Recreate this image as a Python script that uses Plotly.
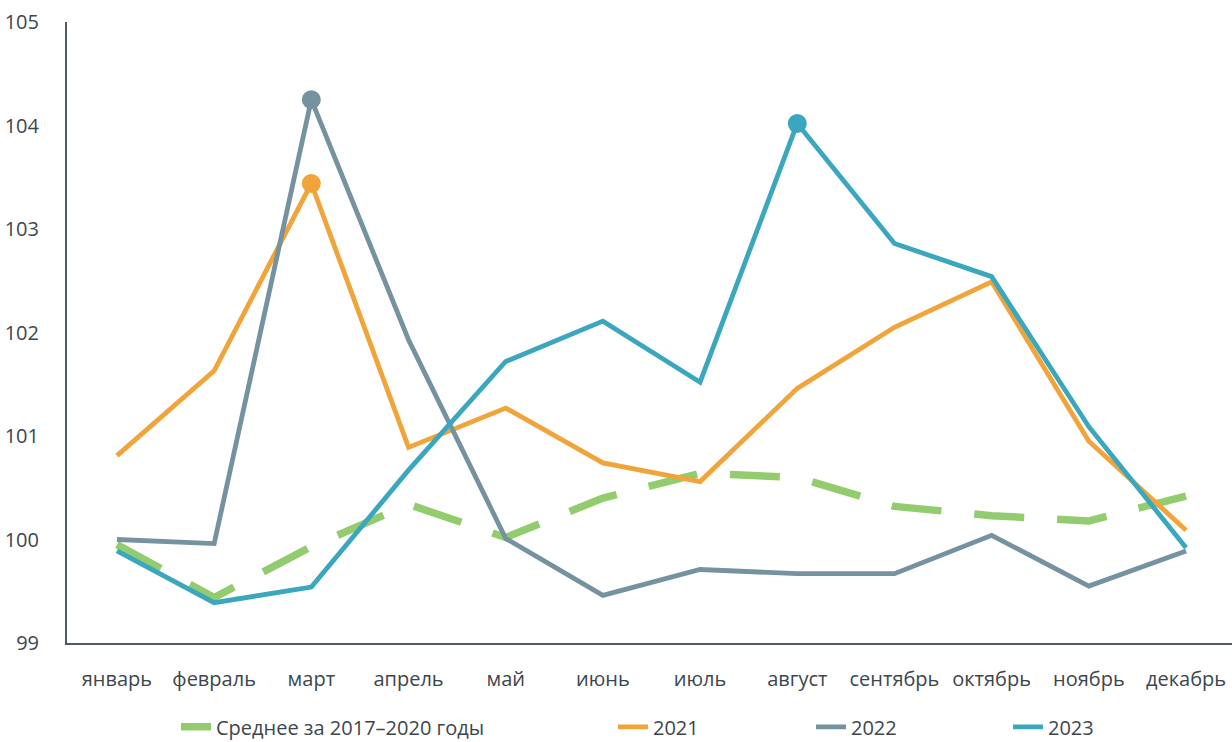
import plotly.graph_objects as go

months = ["январь", "февраль", "март", "апрель", "май", "июнь", "июль",
          "август", "сентябрь", "октябрь", "ноябрь", "декабрь"]
avg_2017_2020 = [99.95, 99.44, 99.93, 100.34, 100.02, 100.40, 100.64, 100.60, 100.32, 100.23, 100.18, 100.42]
y2021 = [100.81, 101.63, 103.44, 100.89, 101.27, 100.74, 100.56, 101.46, 102.05, 102.49, 100.95, 100.09]
y2022 = [100.00, 99.96, 104.25, 101.93, 100.01, 99.46, 99.71, 99.67, 99.67, 100.04, 99.55, 99.89]
y2023 = [99.89, 99.39, 99.54, 100.67, 101.72, 102.11, 101.52, 104.02, 102.86, 102.54, 101.09, 99.92]
y_ticks = [99, 100, 101, 102, 103, 104, 105]

names = ["Среднее за 2017–2020 годы", "2021", "2022", "2023"]
colors = ["#92cc6f", "#f0a43a", "#7592a0", "#3aa7bf"]

font_family = "Open Sans"
text_color = "#3d464d"

fig = go.Figure()

fig.add_trace(go.Scatter(x=months, y=avg_2017_2020, mode="lines", name=names[0],
                         line=dict(color=colors[0], width=7.5, dash="50px,33px"),
                         legend="legend"))
fig.add_trace(go.Scatter(x=months, y=y2021, mode="lines", name=names[1],
                         line=dict(color=colors[1], width=4.8), legend="legend2"))
fig.add_trace(go.Scatter(x=months, y=y2022, mode="lines", name=names[2],
                         line=dict(color=colors[2], width=4.8), legend="legend3"))
fig.add_trace(go.Scatter(x=months, y=y2023, mode="lines", name=names[3],
                         line=dict(color=colors[3], width=4.8), legend="legend4"))

# highlighted peak markers
fig.add_trace(go.Scatter(x=[months[2]], y=[y2021[2]], mode="markers", showlegend=False,
                         marker=dict(color=colors[1], size=19)))
fig.add_trace(go.Scatter(x=[months[2]], y=[y2022[2]], mode="markers", showlegend=False,
                         marker=dict(color=colors[2], size=19)))
fig.add_trace(go.Scatter(x=[months[7]], y=[y2023[7]], mode="markers", showlegend=False,
                         marker=dict(color=colors[3], size=19)))

def px2paper(px):
    return (px - 67) / 1165.0

legend_common = dict(orientation="h", yanchor="middle", y=-0.135, xanchor="left",
                     font=dict(family=font_family, size=20, color=text_color),
                     bgcolor="rgba(0,0,0,0)", borderwidth=0)
text_x = [218, 655, 853, 1050]

fig.update_layout(
    width=1232, height=742,
    margin=dict(l=67, r=0, t=22, b=99, autoexpand=False),
    plot_bgcolor="white", paper_bgcolor="white",
    font=dict(family=font_family, size=20, color=text_color),
    legend=dict(legend_common, x=px2paper(text_x[0] - 42)),
    legend2=dict(legend_common, x=px2paper(text_x[1] - 42)),
    legend3=dict(legend_common, x=px2paper(text_x[2] - 42)),
    legend4=dict(legend_common, x=px2paper(text_x[3] - 42)),
    xaxis=dict(type="category", range=[-0.514, 11.473], showgrid=False, zeroline=False,
               showline=True, linecolor="#4f5a61", linewidth=2, ticks="",
               tickfont=dict(family=font_family, size=20, color=text_color),
               ticklabelstandoff=17, automargin=False),
    yaxis=dict(range=[99, 105], tickvals=y_ticks, showgrid=False, zeroline=False,
               showline=True, linecolor="#4f5a61", linewidth=2, ticks="",
               tickfont=dict(family=font_family, size=20, color=text_color),
               ticklabelstandoff=22, automargin=False),
)

fig.write_html("out.html", config={"displayModeBar": False},
               post_script="document.body.style.margin='0';document.body.style.overflow='hidden';")
